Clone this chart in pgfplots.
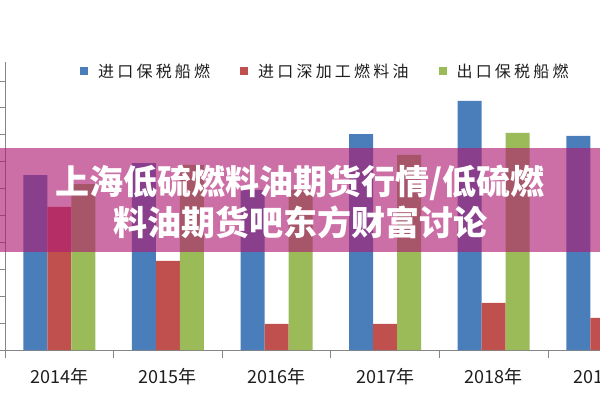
\documentclass[border=0pt]{standalone}
\usepackage{pgfplots}
\pgfplotsset{compat=1.18}
\usepackage{fontspec}
\setmainfont{Liberation Sans}
\newfontfamily\cjk{Noto Sans CJK SC}
\newfontfamily\cjklegend[LetterSpace=20]{Noto Sans CJK SC}
\definecolor{cblue}{RGB}{74,126,187}
\definecolor{cred}{RGB}{192,80,77}
\definecolor{cgreen}{RGB}{155,187,89}
\definecolor{banner}{RGB}{175,28,115}
\definecolor{axgray}{RGB}{134,134,134}
\definecolor{txt}{RGB}{30,30,30}
\begin{document}
\begin{tikzpicture}[x=1pt,y=1pt]
\begin{axis}[
  name=ax,
  at={(5pt,50pt)}, anchor=south west,
  scale only axis, width=651.6pt, height=287.8pt,
  xmin=-0.5, xmax=5.5, ymin=0, ymax=10.7,
  ybar=0pt, bar width=24pt,
  axis lines*=left,
  axis line style={draw=axgray, line width=0.9pt},
  xtick={0,1,2,3,4,5},
  xticklabels={2014年,2015年,2016年,2017年,2018年,2019年},
  minor xtick={-0.5,0.5,1.5,2.5,3.5,4.5,5.5},
  ytick={0,1,2,3,4,5,6,7,8,9,10}, yticklabels={},
  ylabel={万吨}, ylabel style={rotate=-90, anchor=east, at={(axis description cs:0,1.06)}, font=\cjk\fontsize{16}{16}\selectfont, text=txt, xshift=-2pt},
  tick align=outside,
  major tick length=5pt, minor tick length=8pt,
  tick style={draw=axgray, line width=0.9pt},
  major x tick style={draw=none},
  xticklabel style={font=\cjk\fontsize{18}{18}\selectfont, text=txt, anchor=center, yshift=-22pt},
  legend columns=3,
  legend style={at={(0.1151,0.9677)}, anchor=west, draw=none, fill=none, inner sep=0pt,
    font=\cjklegend\fontsize{16}{16}\selectfont, text=txt,
    nodes={inner sep=0pt},
    /tikz/every odd column/.append style={column sep=10pt},
    /tikz/every even column/.append style={column sep=30pt}},
  legend image code/.code={\fill[#1] (0pt,-4pt) rectangle (8pt,4pt);},
]
\addplot[fill=cblue, draw=none] coordinates {(0,6.5) (1,6.95) (2,5.95) (3,8.03) (4,9.26) (5,7.96)};
\addplot[fill=cred, draw=none] coordinates {(0,5.32) (1,3.31) (2,0.97) (3,0.97) (4,1.75) (5,1.19)};
\addplot[fill=cgreen, draw=none] coordinates {(0,6.17) (1,6.88) (2,5.95) (3,7.25) (4,8.07) (5,7.5)};
\legend{进口保税船燃,进口深加工燃料油,出口保税船燃}
\end{axis}
\fill[banner, opacity=0.635] (0,148) rectangle (600,252);
\node[text=white, font=\cjk\bfseries\fontsize{34}{34}\selectfont, inner sep=0pt] at (300,217) {上海低硫燃料油期货行情/低硫燃};
\node[text=white, font=\cjk\bfseries\fontsize{34}{34}\selectfont, inner sep=0pt] at (300,178) {料油期货吧东方财富讨论};
\pgfresetboundingbox
\useasboundingbox (0,0) rectangle (600,400);
\end{tikzpicture}
\end{document}
